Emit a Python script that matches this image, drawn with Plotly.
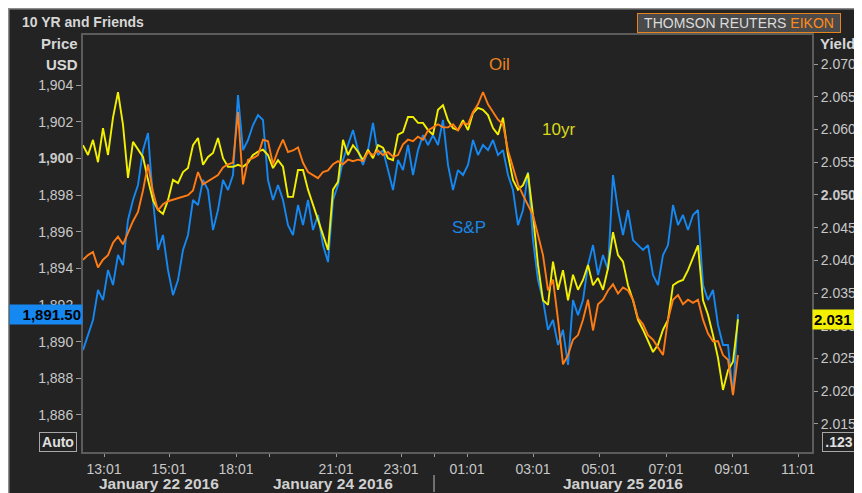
import plotly.graph_objects as go

# ---------------- data ----------------
sp500 = [
    1889.54, 1890.36, 1891.18, 1892.82, 1892.27, 1893.91, 1893.09, 1894.73, 1894.18, 1896.64,
    1897.73, 1898.55, 1900.45, 1901.38, 1897.73, 1895.00, 1895.82, 1893.91, 1892.54, 1893.36,
    1895.00, 1895.82, 1897.73, 1897.45, 1898.82, 1898.27, 1896.09, 1897.18, 1898.82, 1898.27,
    1899.09, 1903.45, 1900.45, 1901.00, 1901.82, 1902.36, 1902.09, 1898.82, 1897.73, 1898.55,
    1897.73, 1896.36, 1895.82, 1897.45, 1896.36, 1897.73, 1896.09, 1896.91, 1895.27, 1894.34,
    1897.73, 1898.55, 1899.91, 1900.73, 1901.55, 1900.45, 1899.64, 1900.45, 1901.93, 1900.18,
    1900.45, 1899.36, 1898.27, 1899.91, 1899.36, 1900.73, 1899.09, 1900.45, 1901.27, 1900.73,
    1901.27, 1900.73, 1902.09, 1899.64, 1898.27, 1899.36, 1899.09, 1899.64, 1901.00, 1900.18,
    1900.73, 1900.45, 1901.00, 1900.18, 1900.45, 1899.09, 1898.27, 1896.36, 1897.18, 1899.25,
    1895.54, 1893.36, 1892.27, 1890.64, 1891.18, 1889.82, 1890.64, 1888.73, 1892.27, 1891.45,
    1892.27, 1894.18, 1895.27, 1893.64, 1894.73, 1893.91, 1899.09, 1897.18, 1895.82, 1897.18,
    1895.54, 1895.27, 1895.00, 1895.27, 1893.64, 1893.09, 1894.73, 1895.27, 1897.45, 1896.36,
    1896.91, 1896.09, 1896.91, 1897.18, 1893.09, 1892.27, 1892.82, 1890.91, 1889.82, 1889.82,
    1887.09, 1891.50,
]

ten_yr = [
    2.0576, 2.0561, 2.0584, 2.0550, 2.0602, 2.0561, 2.0618, 2.0657, 2.0607, 2.0526,
    2.0581, 2.0569, 2.0558, 2.0523, 2.0492, 2.0477, 2.0471, 2.0492, 2.0523, 2.0518,
    2.0535, 2.0541, 2.0576, 2.0587, 2.0546, 2.0558, 2.0564, 2.0587, 2.0556, 2.0543,
    2.0543, 2.0546, 2.0543, 2.0549, 2.0561, 2.0566, 2.0569, 2.0561, 2.0541, 2.0553,
    2.0543, 2.0497, 2.0497, 2.0538, 2.0538, 2.0508, 2.0485, 2.0465, 2.0439, 2.0416,
    2.0508, 2.0520, 2.0584, 2.0561, 2.0576, 2.0566, 2.0553, 2.0569, 2.0556, 2.0576,
    2.0572, 2.0556, 2.0553, 2.0592, 2.0596, 2.0619, 2.0619, 2.0610, 2.0610, 2.0599,
    2.0592, 2.0630, 2.0637, 2.0614, 2.0602, 2.0599, 2.0614, 2.0599, 2.0625, 2.0633,
    2.0630, 2.0622, 2.0602, 2.0592, 2.0618, 2.0561, 2.0523, 2.0508, 2.0515, 2.0533,
    2.0469, 2.0393, 2.0339, 2.0332, 2.0398, 2.0355, 2.0385, 2.0339, 2.0378, 2.0355,
    2.0370, 2.0393, 2.0362, 2.0373, 2.0355, 2.0388, 2.0443, 2.0408, 2.0398, 2.0362,
    2.0339, 2.0309, 2.0294, 2.0278, 2.0260, 2.0271, 2.0294, 2.0309, 2.0362, 2.0367,
    2.0370, 2.0385, 2.0404, 2.0423, 2.0339, 2.0317, 2.0286, 2.0251, 2.0202, 2.0232,
    2.0245, 2.0310,
]

oil = [
    31.21, 31.24, 31.26, 31.16, 31.21, 31.24, 31.32, 31.36, 31.31, 31.39,
    31.46, 31.52, 31.66, 31.83, 31.65, 31.53, 31.57, 31.59, 31.60, 31.61,
    31.62, 31.63, 31.66, 31.78, 31.70, 31.72, 31.74, 31.76, 31.81, 31.83,
    31.84, 32.17, 31.70, 31.86, 31.87, 31.89, 31.99, 31.98, 31.83, 31.92,
    31.99, 31.91, 31.92, 31.94, 31.84, 31.78, 31.76, 31.74, 31.78, 31.79,
    31.83, 31.85, 31.83, 31.86, 31.85, 31.86, 31.85, 31.91, 31.89, 31.92,
    31.89, 31.91, 31.88, 31.89, 31.96, 31.99, 31.98, 32.01, 31.99, 32.05,
    32.07, 32.09, 32.07, 32.07, 32.09, 32.05, 32.10, 32.09, 32.17, 32.22,
    32.30, 32.22, 32.17, 32.12, 32.09, 31.92, 31.81, 31.70, 31.63, 31.57,
    31.50, 31.37, 31.24, 31.01, 31.08, 30.82, 30.53, 30.59, 30.69, 30.72,
    30.82, 30.95, 30.75, 30.92, 30.95, 31.01, 31.05, 30.99, 31.03, 31.01,
    30.95, 30.83, 30.79, 30.72, 30.69, 30.64, 30.59, 30.82, 30.95, 30.98,
    30.92, 30.95, 30.93, 30.95, 30.82, 30.73, 30.68, 30.68, 30.59, 30.56,
    30.33, 30.59,
]

time_tick_labels = ["13:01", "15:01", "18:01", "", "21:01", "23:01", "", "01:01",
                    "03:01", "05:01", "07:01", "09:01", "11:01"]
date_labels = ["January 22 2016", "January 24 2016", "January 25 2016"]
price_ticks = [1886, 1888, 1890, 1892, 1894, 1896, 1898, 1900, 1902, 1904]
yield_ticks = [2.015, 2.020, 2.025, 2.030, 2.035, 2.040, 2.045, 2.050, 2.055, 2.060, 2.065, 2.070]

# ---------------- style ----------------
BLUE = "#1588F2"
YELLOW = "#F2F000"
ORANGE = "#FF7C14"
PANEL = "#232323"
AXIS = "#5c5c5c"
TXT = "#c8c8c8"
FONT = "Liberation Sans, Arial, sans-serif"

samples = list(range(len(sp500)))
tick_pos = [4.2, 17.2, 30.6, 37.2, 50.6, 63.6, 70.2, 76.8, 90.0, 103.2, 116.6, 129.8, 143.0]
date_pos = [15.2, 50.0, 108.0]

fig = go.Figure()
fig.add_trace(go.Scatter(x=samples, y=ten_yr, yaxis="y2", mode="lines", name="10yr",
                         line=dict(color=YELLOW, width=1.9)))
fig.add_trace(go.Scatter(x=samples, y=sp500, yaxis="y", mode="lines", name="S&P",
                         line=dict(color=BLUE, width=1.9)))
fig.add_trace(go.Scatter(x=samples, y=oil, yaxis="y3", mode="lines", name="Oil",
                         line=dict(color=ORANGE, width=1.9)))

price_text = [("<b>%s</b>" if v == 1900 else "%s") % f"{v:,}" for v in price_ticks]
yield_text = [("<b>%s</b>" if abs(v - 2.050) < 1e-9 else "%s") % f"{v:.3f}" for v in yield_ticks]

# The page body keeps its default 8px margin, so the figure sits at (8, 8).
fig.update_layout(
    width=862, height=493,
    margin=dict(l=75, r=58, t=27, b=49),
    paper_bgcolor=PANEL,
    plot_bgcolor=PANEL,
    showlegend=False,
    hovermode=False,
    font=dict(family=FONT, color=TXT, size=14),
    xaxis=dict(range=[0, 145.8], tickvals=tick_pos, ticktext=time_tick_labels,
               showgrid=False, zeroline=False, showline=True, linecolor=AXIS, linewidth=2,
               mirror=True, ticks="outside", ticklen=3, tickcolor="#9a9a9a",
               tickfont=dict(size=14, color=TXT, family=FONT)),
    yaxis=dict(range=[1883.98, 1906.73], tickvals=price_ticks, ticktext=price_text,
               showgrid=False, zeroline=False, showline=True, linecolor=AXIS, linewidth=2,
               ticks="outside", ticklen=5, tickcolor="#9a9a9a",
               tickfont=dict(size=14, color=TXT, family=FONT)),
    yaxis2=dict(range=[2.01072, 2.07443], tickvals=yield_ticks, ticktext=yield_text,
                overlaying="y", side="right", showgrid=False, zeroline=False,
                showline=True, linecolor=AXIS, linewidth=2,
                ticks="outside", ticklen=4, tickcolor="#9a9a9a",
                tickfont=dict(size=14, color=TXT, family=FONT)),
    yaxis3=dict(range=[29.96, 32.6705], overlaying="y", visible=False),
)

# screen-pixel helpers (plot area spans 83..812 x 35..452 on screen)
def px_x(px):
    return (px - 83) / 729.0

def px_y(py):
    return (452 - py) / 417.0

# light border along the panel's top and left edges
fig.add_shape(type="line", xref="paper", yref="paper", x0=px_x(8), x1=px_x(900),
              y0=px_y(8), y1=px_y(8), line=dict(color="#8c8c8c", width=3))
fig.add_shape(type="line", xref="paper", yref="paper", x0=px_x(8), x1=px_x(8),
              y0=px_y(8), y1=px_y(520), line=dict(color="#8c8c8c", width=3))

ann = []
def add(text, x, y, xanchor="center", yanchor="middle", size=14, color=TXT, xref="paper",
        yref="paper", **kw):
    ann.append(dict(text=text, x=x, y=y, xref=xref, yref=yref, xanchor=xanchor,
                    yanchor=yanchor, showarrow=False,
                    font=dict(size=size, color=color, family=FONT), **kw))

add("<b>10 YR and Friends</b>", px_x(20), px_y(22), xanchor="left", size=14, color="#d6d6d6")
add("<b>Price</b>", px_x(80), px_y(44), xanchor="right", size=15, color="#d6d6d6")
add("<b>USD</b>", px_x(80), px_y(64), xanchor="right", size=15, color="#d6d6d6")
add("<b>Yield</b>", px_x(818), px_y(44), xanchor="left", size=15, color="#d6d6d6")
add("THOMSON REUTERS <span style='color:#FF8A1C'>EIKON</span>", px_x(738.5), px_y(23),
    size=14, color="#dcdcdc", bgcolor="#4a4a4a", bordercolor="#E8841E", borderwidth=1,
    borderpad=1, width=200)

# series labels
add("Oil", px_x(500), px_y(64), size=17, color="#E8841E")
add("10yr", px_x(558), px_y(129), size=17, color="#DADA1A")
add("S&P", px_x(469), px_y(227), size=17, color="#1A86E6")

# date labels under the axis
for lbl, pos in zip(date_labels, date_pos):
    add("<b>%s</b>" % lbl, pos, px_y(483), xref="x", size=15.5, color="#d0d0d0")

# last-value tags
add("<b>%s</b>" % f"{sp500[-1]:,.2f}", 0, sp500[-1], xanchor="right", yref="y", size=15,
    color="#000000", bgcolor=BLUE, width=70, align="right", borderpad=1)
add("<b>%s</b>" % f"{ten_yr[-1]:.3f}", 1, ten_yr[-1], xanchor="left", yref="y2", size=15,
    color="#000000", bgcolor=YELLOW, width=46, align="left", borderpad=1)

# corner boxes
add("<b>Auto</b>", px_x(58), px_y(442), size=14, color="#e0e0e0",
    bordercolor="#a8a8a8", borderwidth=1, borderpad=1, width=34)
add("<b>.123</b>", px_x(839), px_y(442), size=14, color="#e0e0e0",
    bordercolor="#a8a8a8", borderwidth=1, borderpad=1, width=30)

fig.update_layout(annotations=ann)

# divider between date groups
fig.add_shape(type="line", xref="x", yref="paper", x0=70.2, x1=70.2,
              y0=px_y(475), y1=px_y(492), line=dict(color="#bdbdbd", width=1))

fig.write_html("out.html")
